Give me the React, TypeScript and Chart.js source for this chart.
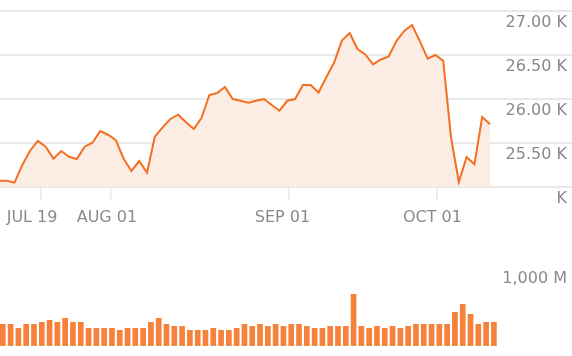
import React, { useEffect, useRef } from 'react';
import { Chart, registerables } from 'chart.js';

Chart.register(...registerables);

// Daily closing values (index = trading day)
const prices = [
  25072, 25072, 25049, 25250, 25412, 25523, 25458, 25322, 25409, 25344,
  25318, 25458, 25503, 25636, 25594, 25531, 25322, 25182, 25295, 25163,
  25572, 25678, 25773, 25822, 25735, 25659, 25787, 26045, 26068, 26136,
  26000, 25981, 25958, 25981, 26000, 25932, 25867, 25980, 26000, 26159,
  26159, 26074, 26247, 26415, 26663, 26750, 26568, 26506, 26394, 26449,
  26483, 26659, 26773, 26841, 26657, 26459, 26500, 26435, 25563, 25057,
  25341, 25258, 25795, 25714,
];

// Daily volume, millions
const volumes = [
  280, 280, 229, 280, 280, 305, 330, 305, 356, 305,
  305, 229, 229, 229, 229, 203, 229, 229, 229, 305,
  356, 280, 254, 254, 203, 203, 203, 229, 203, 203,
  229, 280, 254, 280, 254, 280, 254, 280, 280, 254,
  229, 229, 254, 254, 254, 661, 254, 229, 254, 229,
  254, 229, 254, 280, 280, 280, 280, 280, 432, 534,
  407, 280, 305, 305,
];

const xTickLabels = ['JUL 19', 'AUG 01', 'SEP 01', 'OCT 01'];
const xTickIndex = [5.36, 14.34, 37.18, 56.2];

const yTickValues = [25000, 25500, 26000, 26500, 27000];
const yTickLabels = ['K', '25.50 K', '26.00 K', '26.50 K', '27.00 K'];

const volTickValues = [1000];
const volTickLabels = ['1,000 M'];

const X_MIN = 0.14;
const X_MAX = 73.52;

const LINE = '#f36f21';
const FILL = '#fcede4';
const BAR = '#f5823b';
const GRID = '#e9e9e9';
const TEXT = '#8a8a8a';
const FONT = { family: "'DejaVu Sans', sans-serif", size: 16 };

export default function App() {
  const priceRef = useRef<HTMLCanvasElement>(null);
  const volRef = useRef<HTMLCanvasElement>(null);

  useEffect(() => {
    document.body.style.margin = '0';

    const price = new Chart(priceRef.current as HTMLCanvasElement, {
      type: 'line',
      data: {
        datasets: [
          {
            data: prices.map((v, i) => ({ x: i, y: v })),
            borderColor: LINE,
            backgroundColor: FILL,
            fill: 'start',
            borderWidth: 2,
            pointRadius: 0,
            tension: 0,
          },
        ],
      },
      options: {
        animation: false,
        responsive: false,
        maintainAspectRatio: false,
        layout: { padding: { top: 11, left: 0, right: 0, bottom: 0 } },
        plugins: { legend: { display: false }, tooltip: { enabled: false } },
        scales: {
          x: {
            type: 'linear',
            min: X_MIN,
            max: X_MAX,
            offset: false,
            afterBuildTicks: (s: any) => {
              s.ticks = xTickIndex.map((v) => ({ value: v }));
            },
            ticks: {
              callback: (_v: any, i: number) => xTickLabels[i],
              align: 'start',
              labelOffset: -34,
              padding: 8,
              color: TEXT,
              font: FONT,
              maxRotation: 0,
              autoSkip: false,
            },
            grid: {
              drawOnChartArea: false,
              drawTicks: true,
              tickLength: 13,
              color: GRID,
              lineWidth: 1.5,
            },
            border: { display: false },
            afterFit: (s: any) => {
              s.height = 43;
              s.paddingLeft = 0;
              s.paddingRight = 0;
            },
          },
          y: {
            position: 'right',
            min: 25000,
            max: 27000,
            afterBuildTicks: (s: any) => {
              s.ticks = yTickValues.map((v) => ({ value: v }));
            },
            ticks: {
              mirror: true,
              labelOffset: 11.5,
              padding: -5,
              color: TEXT,
              font: FONT,
              callback: (_v: any, i: number) => yTickLabels[i],
            },
            grid: { color: GRID, lineWidth: 2, drawTicks: false },
            border: { display: false },
            afterFit: (s: any) => {
              s.width = 0;
              s.paddingTop = 0;
              s.paddingBottom = 0;
            },
          },
        },
      },
    } as any);

    const vol = new Chart(volRef.current as HTMLCanvasElement, {
      type: 'bar',
      data: {
        datasets: [
          {
            data: volumes.map((v, i) => ({ x: i, y: v })),
            backgroundColor: BAR,
            borderWidth: 0,
            categoryPercentage: 1,
            barPercentage: 0.73,
          },
        ],
      },
      options: {
        animation: false,
        responsive: false,
        maintainAspectRatio: false,
        layout: { padding: { top: 37.3, left: 0, right: 0, bottom: 10 } },
        plugins: { legend: { display: false }, tooltip: { enabled: false } },
        scales: {
          x: {
            type: 'linear',
            min: X_MIN - 0.5,
            max: X_MAX - 0.5,
            offset: false,
            display: false,
            afterFit: (s: any) => {
              s.height = 0;
              s.paddingLeft = 0;
              s.paddingRight = 0;
            },
          },
          y: {
            position: 'right',
            min: 0,
            max: 1000,
            afterBuildTicks: (s: any) => {
              s.ticks = volTickValues.map((v) => ({ value: v }));
            },
            ticks: {
              mirror: true,
              labelOffset: 11.5,
              padding: -5,
              color: TEXT,
              font: FONT,
              callback: (_v: any, i: number) => volTickLabels[i],
            },
            grid: { display: false },
            border: { display: false },
            afterFit: (s: any) => {
              s.width = 0;
              s.paddingTop = 0;
              s.paddingBottom = 0;
            },
          },
        },
      },
    } as any);

    return () => {
      price.destroy();
      vol.destroy();
    };
  }, []);

  return (
    <div style={{ position: 'absolute', left: 0, top: 0, width: 572, height: 356, background: '#fff' }}>
      <canvas ref={priceRef} width={572} height={230} style={{ position: 'absolute', left: 0, top: 0 }} />
      <canvas ref={volRef} width={572} height={126} style={{ position: 'absolute', left: 0, top: 230 }} />
    </div>
  );
}
